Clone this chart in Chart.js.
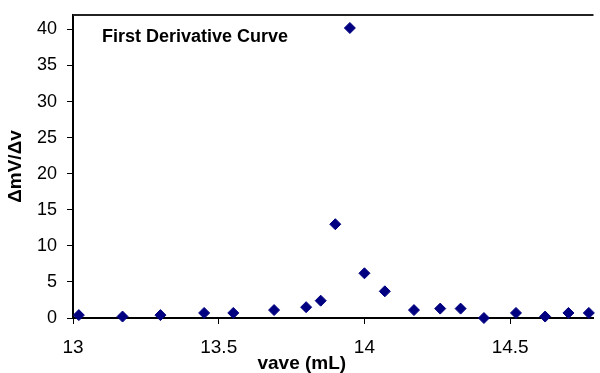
<!DOCTYPE html>
<html>
<head>
<meta charset="utf-8">
<script src="https://cdn.jsdelivr.net/npm/chart.js@4/dist/chart.umd.min.js"></script>
<style>
html,body{margin:0;padding:0;background:#fff;}
#wrap{width:600px;height:373px;}
</style>
</head>
<body>
<div id="wrap"><canvas id="c" width="600" height="373"></canvas></div>
<script>
// Data
const vAve = [13.02, 13.17, 13.30, 13.45, 13.55, 13.69, 13.80, 13.85, 13.90, 13.95, 14.00, 14.07, 14.17, 14.26, 14.33, 14.41, 14.52, 14.62, 14.70, 14.77];
const dmVdv = [0.4, 0.2, 0.4, 0.7, 0.7, 1.1, 1.5, 2.4, 13.0, 40.2, 6.2, 3.7, 1.1, 1.3, 1.3, 0.0, 0.7, 0.2, 0.7, 0.7];
const xTicks = [13, 13.5, 14, 14.5];
const yTicks = [0, 5, 10, 15, 20, 25, 30, 35, 40];
const chartTitle = "First Derivative Curve";
const xTitle = "vave (mL)";
const yTitle = "\u0394mV/\u0394v";

const points = vAve.map((x, i) => ({x: x, y: dmVdv[i]}));

const frameAndText = {
  id: 'frameAndText',
  afterDraw(chart) {
    const {ctx, chartArea} = chart;
    ctx.save();
    ctx.strokeStyle = '#222';
    ctx.lineWidth = 2;
    ctx.beginPath();
    ctx.moveTo(chartArea.left, chartArea.top);
    ctx.lineTo(chartArea.right, chartArea.top);
    ctx.stroke();
    ctx.fillStyle = '#000';
    ctx.font = 'bold 18px "Liberation Sans", Arial, sans-serif';
    ctx.textAlign = 'left';
    ctx.textBaseline = 'middle';
    ctx.fillText(chartTitle, chartArea.left + 29, chartArea.top + 22);
    ctx.font = 'bold 19px "Liberation Sans", Arial, sans-serif';
    ctx.textAlign = 'center';
    const xs = chart.scales.x;
    ctx.fillText(xTitle, xs.getPixelForValue(13.785), 364);
    ctx.restore();
  }
};

new Chart(document.getElementById('c'), {
  type: 'scatter',
  data: {
    datasets: [{
      data: points,
      pointStyle: 'rectRot',
      pointRadius: 5.5,
      pointHoverRadius: 5.5,
      backgroundColor: '#000080',
      borderColor: '#000080',
      borderWidth: 1,
      clip: false
    }]
  },
  options: {
    responsive: false,
    animation: false,
    layout: {padding: {top: 15, right: 0, left: 0, bottom: 0}},
    plugins: {legend: {display: false}, tooltip: {enabled: false}},
    scales: {
      x: {
        type: 'linear',
        min: 13,
        max: 14.786,
        afterBuildTicks: (s) => { s.ticks = xTicks.map(v => ({value: v})); },
        afterFit: (s) => { s.height = 55; s.paddingLeft = 0; s.paddingRight = 0; },
        ticks: {
          color: '#000',
          padding: 12,
          font: {family: '"Liberation Sans", Arial, sans-serif', size: 19},
          callback: (v) => String(v)
        },
        grid: {display: true, drawOnChartArea: false, tickLength: 6, color: '#000', tickWidth: 1},
        border: {display: true, color: '#000', width: 2}
      },
      y: {
        min: 0,
        max: 42,
        afterBuildTicks: (s) => { s.ticks = yTicks.map(v => ({value: v})); },
        afterFit: (s) => { s.width = 73; s.paddingTop = 0; s.paddingBottom = 0; },
        ticks: {
          color: '#000',
          padding: 10,
          font: {family: '"Liberation Sans", Arial, sans-serif', size: 18},
          callback: (v) => String(v)
        },
        grid: {display: true, drawOnChartArea: false, tickLength: 6, color: '#000', tickWidth: 1},
        border: {display: true, color: '#000', width: 2},
        title: {
          display: true,
          text: yTitle,
          color: '#000',
          font: {family: '"Liberation Sans", Arial, sans-serif', size: 19, weight: 'bold'},
          padding: {top: 4, bottom: 0}
        }
      }
    }
  },
  plugins: [frameAndText]
});
</script>
</body>
</html>
